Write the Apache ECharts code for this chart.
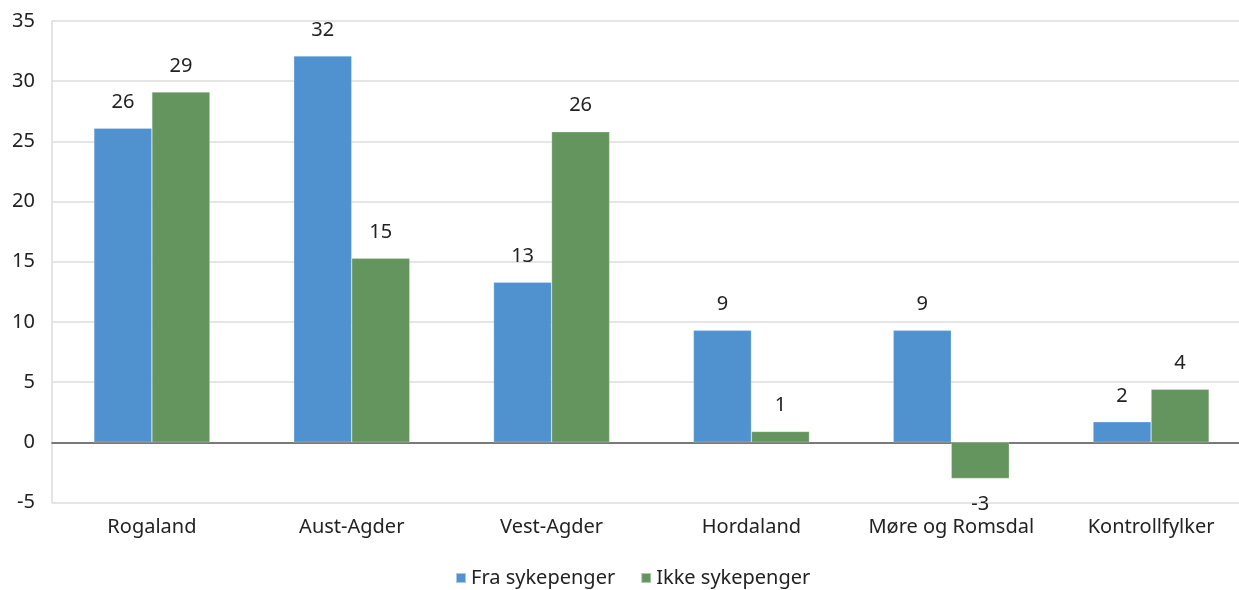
<!DOCTYPE html>
<html>
<head>
<meta charset="utf-8">
<script src="https://cdn.jsdelivr.net/npm/echarts@6/dist/echarts.min.js"></script>
<style>
html,body{margin:0;padding:0;background:#fff;overflow:hidden;width:1239px;height:590px;}
#chart{width:1251px;height:590px;}
</style>
</head>
<body>
<div id="chart"></div>
<script>
const categories = ['Rogaland', 'Aust-Agder', 'Vest-Agder', 'Hordaland', 'Møre og Romsdal', 'Kontrollfylker'];
const fraSykepenger = [26.1, 32.1, 13.3, 9.3, 9.3, 1.7];
const ikkeSykepenger = [29.1, 15.3, 25.8, 0.9, -3.0, 4.4];
const seriesNames = ['Fra sykepenger', 'Ikke sykepenger'];
const yTicks = { min: -5, max: 35, interval: 5 };

const FONT = '"Noto Sans", "Open Sans", sans-serif';
const chart = echarts.init(document.getElementById('chart'), null, { renderer: 'canvas' });

function labelCfg() {
  return {
    show: true,
    position: 'outside',
    distance: 16,
    fontSize: 20,
    fontFamily: FONT,
    color: '#222',
    formatter: p => String(Math.round(p.value))
  };
}

chart.setOption({
  animation: false,
  textStyle: { fontFamily: FONT },
  grid: { left: 52, right: 0, top: 21, bottom: 87.5, containLabel: false },
  legend: {
    top: 563,
    left: 450,
    itemWidth: 10,
    itemHeight: 10,
    itemGap: 25,
    icon: 'rect',
    textStyle: { fontSize: 20, color: '#222', fontFamily: FONT },
    data: seriesNames
  },
  xAxis: {
    type: 'category',
    data: categories,
    axisLine: { onZero: true, lineStyle: { color: '#555', width: 1.5 } },
    axisTick: { show: false },
    axisLabel: { interval: 0, fontSize: 20, color: '#222', margin: 15, fontFamily: FONT }
  },
  yAxis: {
    type: 'value',
    min: yTicks.min,
    max: yTicks.max,
    interval: yTicks.interval,
    axisLine: { show: true, lineStyle: { color: '#dcdcdc', width: 1.5 } },
    axisTick: { show: false },
    splitLine: { lineStyle: { color: '#dcdcdc', width: 1.5 } },
    axisLabel: { fontSize: 20, color: '#222', margin: 17, fontFamily: FONT }
  },
  series: [
    {
      name: seriesNames[0],
      type: 'bar',
      data: fraSykepenger,
      barWidth: 58,
      barGap: '0%',
      itemStyle: { color: '#4F92CF', borderColor: 'rgba(255,255,255,0.5)', borderWidth: 0.5 },
      label: labelCfg()
    },
    {
      name: seriesNames[1],
      type: 'bar',
      data: ikkeSykepenger,
      barWidth: 58,
      barGap: '0%',
      itemStyle: { color: '#64955E', borderColor: 'rgba(255,255,255,0.5)', borderWidth: 0.5 },
      label: labelCfg()
    }
  ]
});
</script>
</body>
</html>
